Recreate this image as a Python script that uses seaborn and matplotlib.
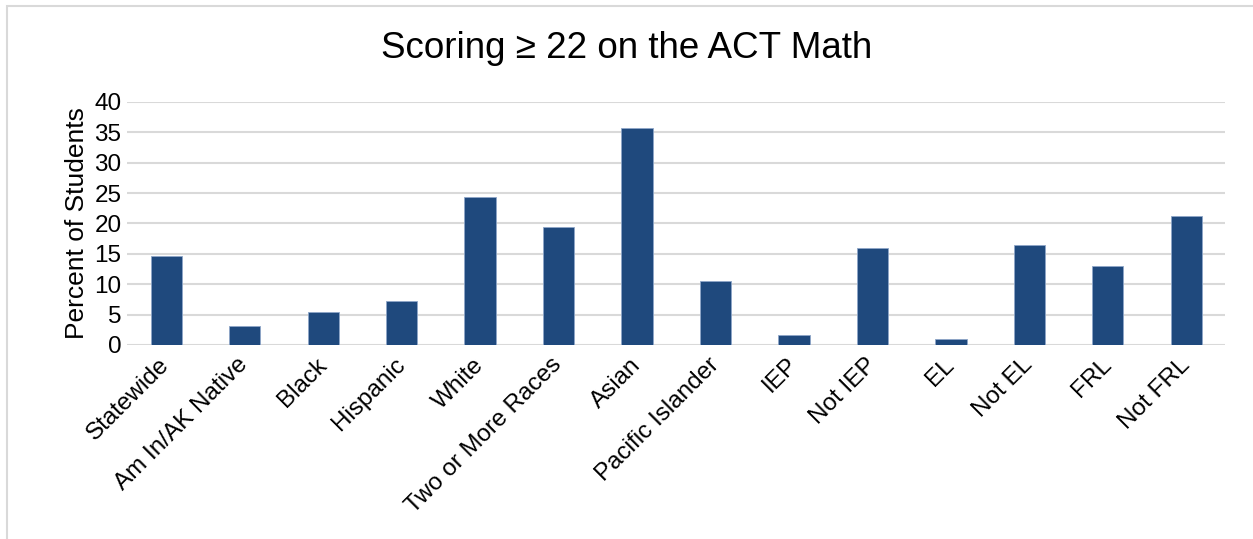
import matplotlib
matplotlib.use("Agg")
import matplotlib.pyplot as plt
import seaborn as sns
import pandas as pd
from matplotlib.patches import Rectangle

# chart data
groups = ["Statewide", "Am In/AK Native", "Black", "Hispanic", "White",
          "Two or More Races", "Asian", "Pacific Islander", "IEP", "Not IEP",
          "EL", "Not EL", "FRL", "Not FRL"]
percent = [14.6, 3.2, 5.5, 7.2, 24.4, 19.4, 35.7, 10.6, 1.7, 16.0,
           0.9, 16.4, 13.0, 21.3]
y_ticks = [0, 5, 10, 15, 20, 25, 30, 35, 40]

df = pd.DataFrame({"group": groups, "percent": percent})

sns.set_theme(style="white")
plt.rcParams["font.family"] = ["Liberation Sans", "DejaVu Sans"]

fig = plt.figure(figsize=(12.53, 5.39), dpi=100)
ax = fig.add_axes([0.1014, 0.36, 0.8766, 0.4508])

sns.barplot(data=df, x="group", y="percent", color="#1F497D", width=0.4,
            edgecolor="#8EA6C8", linewidth=0.6, saturation=1, ax=ax, zorder=3)

ax.set_ylim(0, 40)
ax.set_yticks(y_ticks)
ax.set_xlim(-0.5, len(groups) - 0.5)
ax.yaxis.grid(True, color="#D9D9D9", linewidth=1.5, zorder=0)
ax.set_axisbelow(True)
for s in ax.spines.values():
    s.set_visible(False)
ax.tick_params(axis="y", length=0, labelsize=17.5, colors="black", pad=4)
ax.tick_params(axis="x", length=0, labelsize=17.5, colors="black", pad=12)
ax.set_xticks(range(len(groups)))
ax.set_xticklabels(groups, rotation=45, ha="right", va="center",
                   rotation_mode="anchor")
ax.set_xlabel("")
ax.set_ylabel("Percent of Students", fontsize=19, color="black", labelpad=4)

fig.suptitle("Scoring \u2265 22 on the ACT Math", fontsize=26.5, y=0.91,
             va="center", color="black")

# light frame around the chart area
fig.patches.append(Rectangle((7 / 1253, -0.1), 1.2, 1 - 6 / 539 + 0.1,
                             transform=fig.transFigure, fill=False,
                             edgecolor="#D9D9D9", linewidth=1.5))

fig.savefig("out.png", dpi=100)
